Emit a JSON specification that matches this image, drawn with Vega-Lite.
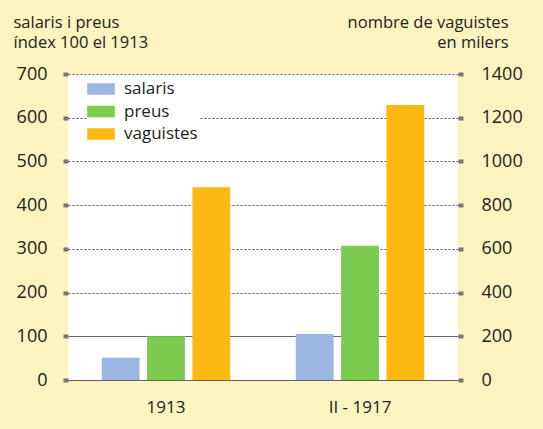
{
  "$schema": "https://vega.github.io/schema/vega-lite/v6.json",
  "autosize": {"type": "none"},
  "width": 390,
  "height": 306,
  "padding": {"left": 68, "top": 74, "right": 85, "bottom": 49},
  "background": "#fcf3be",
  "data": {
    "values": [
      {"periode": "1913", "serie": "salaris", "valor": 51},
      {"periode": "1913", "serie": "preus", "valor": 100},
      {"periode": "1913", "serie": "vaguistes", "valor": 882},
      {"periode": "II - 1917", "serie": "salaris", "valor": 105},
      {"periode": "II - 1917", "serie": "preus", "valor": 307},
      {"periode": "II - 1917", "serie": "vaguistes", "valor": 1258}
    ]
  },
  "layer": [
    {
      "transform": [{"filter": "datum.serie !== 'vaguistes'"}],
      "mark": {"type": "bar"},
      "encoding": {
        "x": {"field": "periode", "type": "nominal", "sort": ["1913", "II - 1917"],
              "scale": {"paddingInner": 0.338, "paddingOuter": 0.174},
              "axis": {"title": null}},
        "xOffset": {"field": "serie", "type": "nominal",
                    "scale": {"domain": ["salaris", "preus", "vaguistes"], "paddingInner": 0.165, "paddingOuter": 0}},
        "y": {"field": "valor", "type": "quantitative",
              "scale": {"domain": [0, 700], "nice": false},
              "axis": {
                "orient": "left",
                "values": [0, 100, 200, 300, 400, 500, 600, 700],
                "format": "d",
                "grid": true,
                "gridDash": {"condition": {"test": "datum.value <= 100", "value": [1, 0]}, "value": [2, 2]},
                "gridColor": {"condition": {"test": "datum.value <= 100", "value": "#333333"}, "value": "#555555"},
                "title": ["salaris i preus", "índex 100 el 1913"],
                "titleAngle": 0,
                "titleAlign": "left",
                "titleBaseline": "top",
                "titleLineHeight": 20,
                "titleX": -55,
                "titleY": -60,
                "labelPadding": 16
              }},
        "color": {"field": "serie", "type": "nominal",
                  "scale": {"domain": ["salaris", "preus", "vaguistes"], "range": ["#9cb6e2", "#7ccb4f", "#fdb913"]},
                  "legend": {
                    "title": null,
                    "orient": "none",
                    "legendX": 19,
                    "legendY": 1,
                    "padding": 2,
                    "fillColor": "white",
                    "symbolType": "M-1.15,-0.48H1.15V0.48H-1.15Z",
                    "symbolSize": 576,
                    "symbolStrokeWidth": 0,
                    "symbolOpacity": 1,
                    "rowPadding": 2.5,
                    "labelOffset": 11,
                    "labelFontSize": 17,
                    "labelFont": "Open Sans",
                    "labelColor": "#222222"
                  }}
      }
    },
    {
      "transform": [{"filter": "datum.serie === 'vaguistes'"}],
      "mark": {"type": "bar"},
      "encoding": {
        "x": {"field": "periode", "type": "nominal", "sort": ["1913", "II - 1917"], "axis": {"title": null}},
        "xOffset": {"field": "serie", "type": "nominal"},
        "y": {"field": "valor", "type": "quantitative",
              "scale": {"domain": [0, 1400], "nice": false},
              "axis": {
                "orient": "right",
                "values": [0, 200, 400, 600, 800, 1000, 1200, 1400],
                "format": "d",
                "grid": false,
                "title": ["nombre de vaguistes", "en milers"],
                "titleAngle": 0,
                "titleAlign": "right",
                "titleBaseline": "top",
                "titleLineHeight": 20,
                "titleX": 50,
                "titleY": -60,
                "labelPadding": 18
              }},
        "color": {"field": "serie", "type": "nominal"}
      }
    }
  ],
  "resolve": {"scale": {"y": "independent"}, "axis": {"y": "independent"}},
  "config": {
    "view": {"fill": "white", "stroke": null},
    "font": "Open Sans",
    "axisY": {
      "domain": false,
      "tickSize": 5,
      "tickWidth": 4,
      "tickColor": "#777777",
      "labelFontSize": 18,
      "labelColor": "#222222",
      "labelFont": "Open Sans",
      "titleFont": "Open Sans",
      "titleFontSize": 16.5,
      "titleFontWeight": "normal",
      "titleColor": "#222222"
    },
    "axisX": {
      "domain": false,
      "ticks": false,
      "grid": false,
      "labelAngle": 0,
      "labelPadding": 19,
      "labelFontSize": 17,
      "labelColor": "#222222",
      "labelFont": "Open Sans"
    }
  }
}
